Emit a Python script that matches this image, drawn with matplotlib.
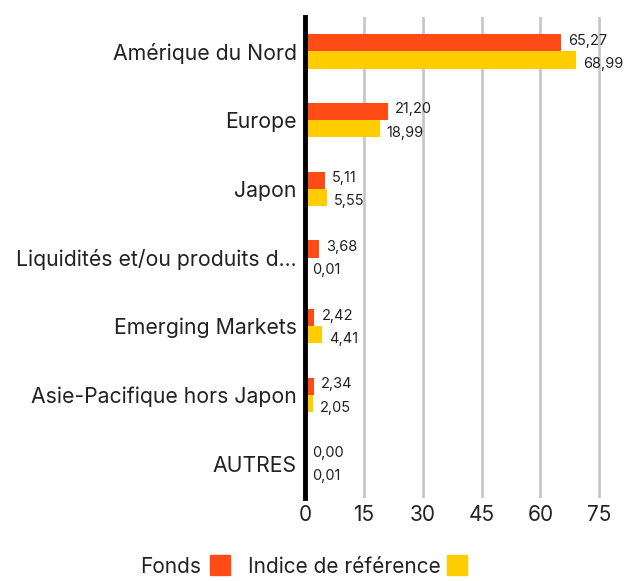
import matplotlib
matplotlib.use("Agg")
import matplotlib.pyplot as plt
import numpy as np
from matplotlib.patches import Rectangle

plt.rcParams['font.family'] = ['Inter', 'DejaVu Sans']

categories = ["Amérique du Nord", "Europe", "Japon",
              "Liquidités et/ou produits d...", "Emerging Markets",
              "Asie-Pacifique hors Japon", "AUTRES"]
fonds = [65.27, 21.20, 5.11, 3.68, 2.42, 2.34, 0.00]
indice = [68.99, 18.99, 5.55, 0.01, 4.41, 2.05, 0.01]
xticks = [0, 15, 30, 45, 60, 75]

c_fonds = "#FF4C17"
c_indice = "#FFCD00"

fig = plt.figure(figsize=(6.34, 5.81), dpi=100)
ax = fig.add_axes([305 / 634, 1 - 498 / 581, (615 - 305) / 634, (498 - 17) / 581])

y = np.arange(len(categories))
h = 0.25
ax.barh(y - h / 2, fonds, height=h, color=c_fonds, zorder=3)
ax.barh(y + h / 2, indice, height=h, color=c_indice, zorder=3)

def fmt(v):
    return f"{v:.2f}".replace(".", ",")

for i in range(len(categories)):
    ax.text(fonds[i] + 1.8, y[i] - h / 2 - 0.03, fmt(fonds[i]), va="center", ha="left",
            fontsize=10.5, color="#222222")
    ax.text(indice[i] + 1.8, y[i] + h / 2 + 0.06, fmt(indice[i]), va="center", ha="left",
            fontsize=10.5, color="#222222")

ax.set_ylim(len(categories) - 0.5, -0.5)
ax.set_xlim(0, 79)
ax.set_yticks(y)
ax.set_yticklabels(categories, fontsize=15.3, color="#222222")
ax.set_xticks(xticks)
ax.set_xticklabels([str(t) for t in xticks], fontsize=15, color="#222222")
ax.tick_params(axis="both", length=0)
ax.tick_params(axis="y", pad=6)
ax.tick_params(axis="x", pad=5)
ax.grid(axis="x", color="#c8c8c8", linewidth=2, zorder=0)
for s in ["top", "right", "bottom"]:
    ax.spines[s].set_visible(False)
ax.spines["left"].set_linewidth(3.5)
ax.spines["left"].set_color("black")
ax.spines["left"].set_zorder(5)

# legend
fig.text(140 / 634, 1 - 567 / 581, "Fonds", fontsize=15, va="center", ha="left", color="#222222")
fig.patches.append(Rectangle((210 / 634, 1 - 575 / 581), 20 / 634, 20 / 581,
                             transform=fig.transFigure, color=c_fonds, figure=fig))
fig.text(248 / 634, 1 - 567 / 581, "Indice de référence", fontsize=15, va="center", ha="left",
         color="#222222")
fig.patches.append(Rectangle((447 / 634, 1 - 575 / 581), 20 / 634, 20 / 581,
                             transform=fig.transFigure, color=c_indice, figure=fig))

fig.savefig("out.png", dpi=100)
